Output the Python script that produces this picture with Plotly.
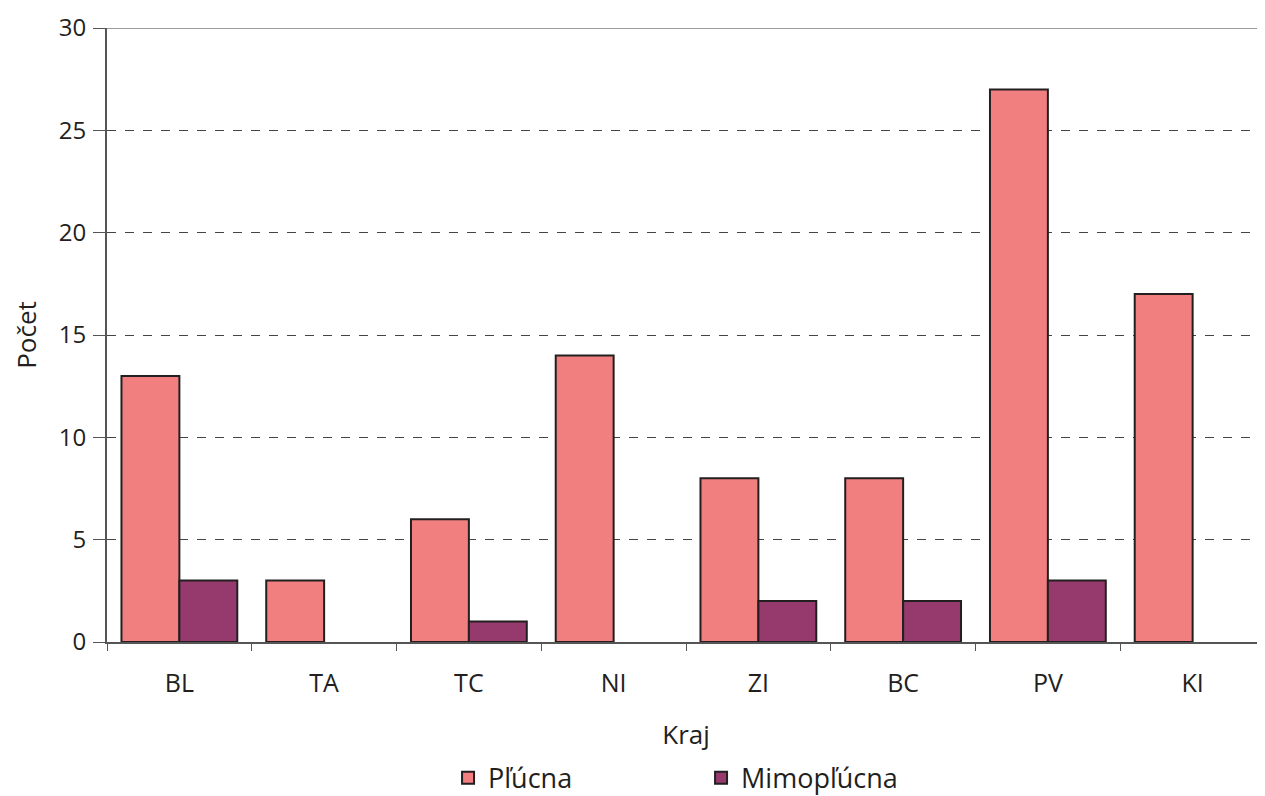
import plotly.graph_objects as go

categories = ["BL", "TA", "TC", "NI", "ZI", "BC", "PV", "KI"]
plucna = [13, 3, 6, 14, 8, 8, 27, 17]
mimoplucna = [3, 0, 1, 0, 2, 2, 3, 0]
y_ticks = [0, 5, 10, 15, 20, 25, 30]

FONT = "Open Sans"
TXT = "#231F20"


def outline(vals):
    return [2 if v > 0 else 0 for v in vals]


fig = go.Figure()
fig.add_trace(go.Bar(name="Pľúcna", x=categories, y=plucna,
                     marker=dict(color="#F17F80", line=dict(color=TXT, width=outline(plucna)))))
fig.add_trace(go.Bar(name="Mimopľúcna", x=categories, y=mimoplucna,
                     marker=dict(color="#963A6E", line=dict(color=TXT, width=outline(mimoplucna)))))

fig.update_layout(
    width=1257, height=788,
    margin=dict(l=99, r=0, t=20, b=154, autoexpand=False),
    plot_bgcolor="white", paper_bgcolor="white",
    barmode="group", bargap=0.2, bargroupgap=0,
    font=dict(family=FONT, color=TXT, size=26),
    legend=dict(orientation="h", x=0.513, xanchor="center", y=-0.222, yanchor="middle",
                font=dict(size=27), entrywidth=208, itemwidth=30),
    shapes=[dict(type="line", xref="paper", yref="y", x0=0, x1=1, y0=30, y1=30,
                 line=dict(color="#9A9A9A", width=2), layer="above")],
)
fig.update_xaxes(
    title=dict(text="Kraj", font=dict(size=26), standoff=28),
    showline=True, linecolor="#555555", linewidth=2,
    ticks="outside", tickson="boundaries", ticklen=7, tickcolor="#555555",
    tickfont=dict(size=25), ticklabelstandoff=18, showgrid=False, automargin=False,
)
fig.update_yaxes(
    title=dict(text="Počet", font=dict(size=26), standoff=42),
    range=[0, 30], tickvals=y_ticks,
    showline=True, linecolor="#555555", linewidth=2,
    ticks="outside", ticklen=12, tickcolor="#555555",
    tickfont=dict(size=24), ticklabelstandoff=2, ticklabeloverflow="allow",
    showgrid=True, gridcolor="#444444", gridwidth=1, griddash="dash",
    zeroline=False, automargin=False,
)
fig.write_html("out.html")
